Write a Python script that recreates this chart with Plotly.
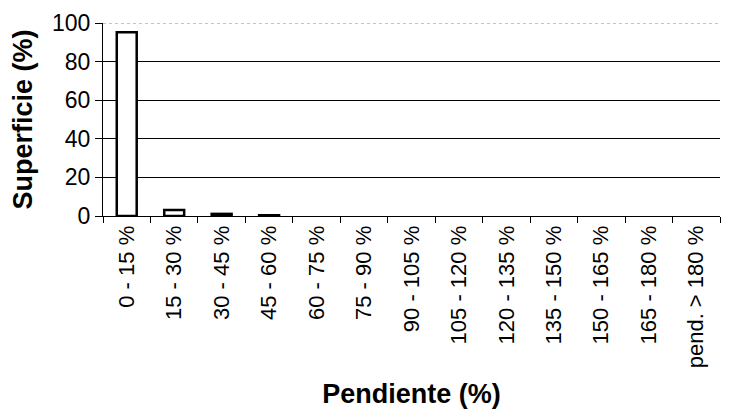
import plotly.graph_objects as go

TEXT_STYLE = "Arial"
TEXT_COLOR = "black"

categories = ["0 - 15 %", "15 - 30 %", "30 - 45 %", "45 - 60 %", "60 - 75 %", "75 - 90 %",
              "90 - 105 %", "105 - 120 %", "120 - 135 %", "135 - 150 %", "150 - 165 %",
              "165 - 180 %", "pend. > 180 %"]
superficie = [95.2, 3.1, 1.1, 0.4, 0, 0, 0, 0, 0, 0, 0, 0, 0]
y_ticks = [0, 20, 40, 60, 80, 100]

# empty classes have no visible outline in the original
outline = ["black" if v > 0 else "rgba(0,0,0,0)" for v in superficie]

fig = go.Figure()
fig.add_trace(go.Bar(x=categories, y=superficie,
                     marker=dict(color="white", line=dict(color=outline, width=2.5)),
                     width=0.42))

# top gridline looks dotted in the original
fig.add_shape(type="line", xref="paper", yref="y", x0=0, x1=1, y0=100, y1=100,
              line=dict(color="white", width=2), layer="below")
fig.add_shape(type="line", xref="paper", yref="y", x0=0, x1=1, y0=100, y1=100,
              line=dict(color="#888888", width=1, dash="dot"), layer="below")

fig.update_layout(width=736, height=418,
                  margin=dict(l=95, r=24, t=15, b=210),
                  plot_bgcolor="white", paper_bgcolor="white",
                  font=dict(family=TEXT_STYLE, color=TEXT_COLOR),
                  showlegend=False)
fig.update_xaxes(title_text="<b>Pendiente (%)</b>", title_font=dict(size=27),
                 title_standoff=16, automargin=False,
                 tickangle=-90, tickfont=dict(size=22),
                 showline=True, linecolor="black", linewidth=1,
                 ticks="outside", ticklen=6, tickcolor="black", tickson="boundaries",
                 showgrid=False)
fig.update_yaxes(title_text="<b>Superficie (%)</b>", title_font=dict(size=27),
                 title_standoff=14, automargin=False,
                 range=[0, 100], tickvals=y_ticks, tickfont=dict(size=23),
                 showline=True, linecolor="black", linewidth=1,
                 ticks="outside", ticklen=7, tickcolor="black",
                 showgrid=True, gridcolor="black", gridwidth=1, zeroline=False)

fig.write_html("out.html")
